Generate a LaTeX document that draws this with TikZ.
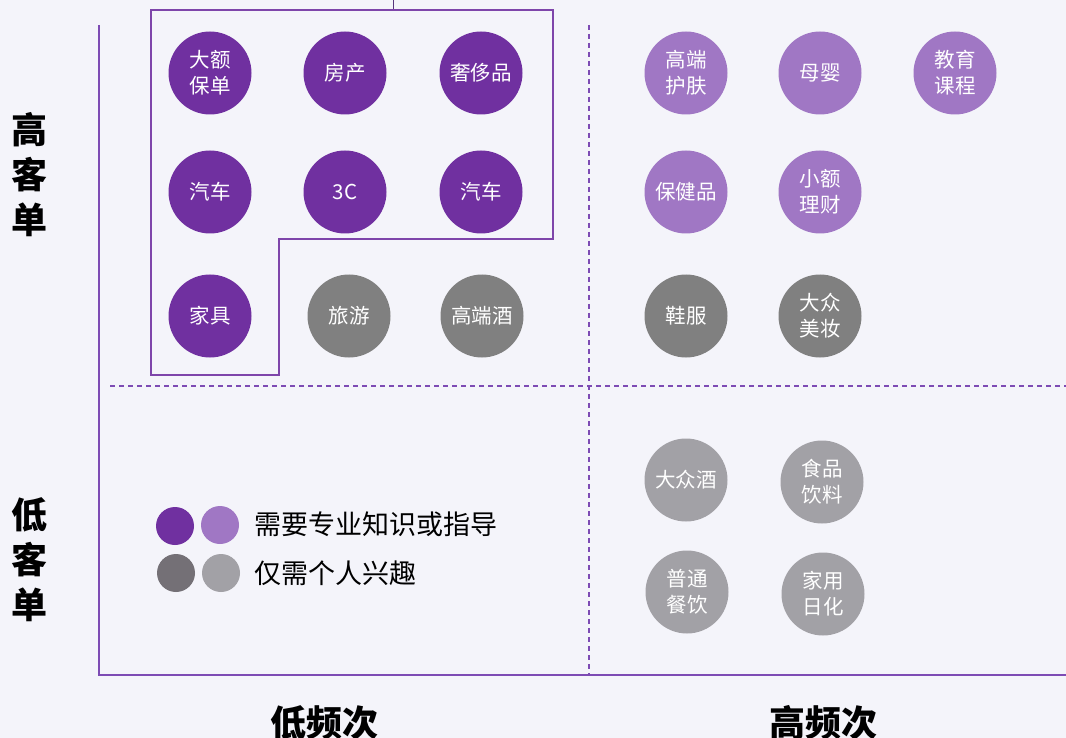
\documentclass[tikz,border=0pt]{standalone}
\usepackage{fontspec}
\setmainfont{Noto Sans CJK SC}
\definecolor{bg}{RGB}{244,244,250}
\definecolor{dpur}{RGB}{112,48,160}
\definecolor{lpur}{RGB}{160,119,196}
\definecolor{dgray}{RGB}{128,128,128}
\definecolor{lgray}{RGB}{162,161,166}
\definecolor{axis}{RGB}{125,75,180}
\definecolor{legdg}{RGB}{116,112,118}
\begin{document}
\begin{tikzpicture}[x=1pt,y=-1pt,
  bub/.style={circle,minimum size=83pt,inner sep=0pt,text=white,font=\fontsize{20.5}{26}\selectfont,align=center},
  bd/.style={bub,fill=dpur},
  bl/.style={bub,fill=lpur},
  bg1/.style={bub,fill=dgray},
  bg2/.style={bub,fill=lgray},
  leg/.style={circle,minimum size=38pt,inner sep=0pt},
  axlab/.style={font=\fontsize{36}{45}\selectfont\bfseries,text=black,align=center},
  legtxt/.style={font=\fontsize{27}{30}\selectfont,text=black,anchor=west},
  dashline/.style={axis,line width=1.2pt,dash pattern=on 5pt off 4pt}]
\fill[bg] (0,0) rectangle (1066,738);
\useasboundingbox (0,0) rectangle (1066,738);
% axes
\coordinate (ytop) at (99,25);
\coordinate (orig) at (99,675);
\coordinate (xend) at (1066,675);
\draw[axis,line width=1.2pt] (ytop) -- (orig) -- (xend);
\coordinate (hd1) at (110,386);
\coordinate (hd2) at (1066,386);
\coordinate (vd1) at (589,25);
\coordinate (vd2) at (589,675);
\draw[dashline] (hd1) -- (hd2);
\draw[dashline] (vd1) -- (vd2);
% top tick
\coordinate (t1) at (393,0);
\coordinate (t2) at (393,10);
\draw[axis!70!black,line width=1pt] (t1) -- (t2);
% outline
\draw[dpur!90!white,line width=2pt] (151,10) -- (553,10) -- (553,239) -- (279,239) -- (279,375) -- (151,375) -- cycle;
% bubbles
\node[bd] (a1) at (210,73) {大额\\保单};
\node[bd] (a2) at (345,73) {房产};
\node[bd] (a3) at (481,73) {奢侈品};
\node[bd] (b1) at (210,192) {汽车};
\node[bd] (b2) at (345,192) {3C};
\node[bd] (b3) at (481,192) {汽车};
\node[bd] (c1) at (210,316) {家具};
\node[bg1] (c2) at (349,316) {旅游};
\node[bg1] (c3) at (482,316) {高端酒};
\node[bl] (d1) at (686,73) {高端\\护肤};
\node[bl] (d2) at (820,73) {母婴};
\node[bl] (d3) at (955,73) {教育\\课程};
\node[bl] (e1) at (686,192) {保健品};
\node[bl] (e2) at (820,192) {小额\\理财};
\node[bg1] (f1) at (686,316) {鞋服};
\node[bg1] (f2) at (820,316) {大众\\美妆};
\node[bg2] (g1) at (686,480) {大众酒};
\node[bg2] (g2) at (822,482) {食品\\饮料};
\node[bg2] (h1) at (687,592) {普通\\餐饮};
\node[bg2] (h2) at (823,594) {家用\\日化};
% legend
\node[leg,fill=dpur] (l1) at (175,526) {};
\node[leg,fill=lpur] (l2) at (220,525) {};
\node[leg,fill=legdg] (l3) at (176,573) {};
\node[leg,fill=lgray] (l4) at (221,573) {};
\node[legtxt] (lt1) at (251,524) {需要专业知识或指导};
\node[legtxt] (lt2) at (251,573) {仅需个人兴趣};
% axis labels
\node[axlab] (yh) at (29,175) {高\\客\\单};
\node[axlab] (yl) at (29,560) {低\\客\\单};
\node[axlab] (xl) at (324,723) {低频次};
\node[axlab] (xh) at (823,723) {高频次};
\end{tikzpicture}
\end{document}
